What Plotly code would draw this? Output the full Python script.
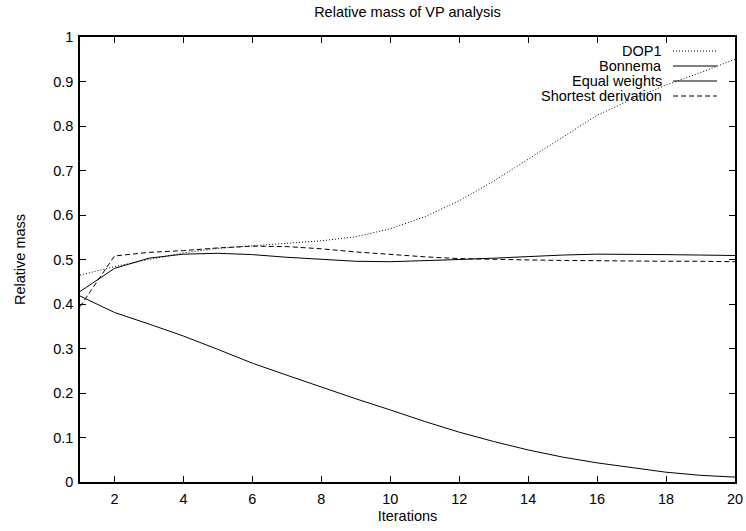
import plotly.graph_objects as go

iterations = list(range(1, 21))
dop1 = [0.465, 0.484, 0.500, 0.515, 0.525, 0.531, 0.536, 0.542, 0.551, 0.569,
        0.596, 0.632, 0.676, 0.726, 0.776, 0.824, 0.860, 0.892, 0.920, 0.950]
bonnema = [0.418, 0.381, 0.355, 0.328, 0.298, 0.267, 0.240, 0.213, 0.187, 0.162,
           0.136, 0.112, 0.091, 0.072, 0.056, 0.043, 0.032, 0.022, 0.015, 0.011]
equal_weights = [0.428, 0.480, 0.503, 0.512, 0.514, 0.511, 0.505, 0.500, 0.496, 0.495,
                 0.497, 0.500, 0.503, 0.507, 0.510, 0.512, 0.512, 0.511, 0.510, 0.509]
shortest = [0.394, 0.508, 0.516, 0.520, 0.526, 0.530, 0.529, 0.524, 0.517, 0.511,
            0.506, 0.502, 0.500, 0.499, 0.498, 0.497, 0.497, 0.496, 0.496, 0.495]

series_names = ["DOP1", "Bonnema", "Equal weights", "Shortest derivation"]
series_values = [dop1, bonnema, equal_weights, shortest]
dashes = ["1px,2px", "solid", "solid", "5px,3px"]

x_ticks = list(range(2, 21, 2))
y_ticks = [i / 10 for i in range(0, 11)]
y_tick_labels = ["0"] + [f"{v:.1f}" for v in y_ticks[1:-1]] + ["1"]

FONT = "Liberation Sans, Arial, sans-serif"
FS = 14.5
W, H = 746, 531
L, R, T, B = 80, 11, 37, 49
pw, ph = W - L - R, H - T - B

fig = go.Figure()
for name, vals, d in zip(series_names, series_values, dashes):
    fig.add_trace(go.Scatter(x=iterations, y=vals, mode="lines", name=name,
                             line=dict(color="black", width=1, dash=d),
                             showlegend=False))

# manual gnuplot-style legend (text right, sample on the right)
def px2paper(px, py):
    return (px - L) / pw, (H - B - py) / ph

rows_y = [51, 66, 81, 96]
for name, d, py in zip(series_names, dashes, rows_y):
    tx, ty = px2paper(664, py)
    fig.add_annotation(x=tx, y=ty, xref="paper", yref="paper", text=name,
                       showarrow=False, xanchor="right", yanchor="middle",
                       font=dict(family=FONT, size=FS, color="black"))
    x0, y0 = px2paper(673, py)
    x1, _ = px2paper(717, py)
    fig.add_shape(type="line", xref="paper", yref="paper", x0=x0, x1=x1, y0=y0, y1=y0,
                  line=dict(color="black", width=1, dash=d))

axis_common = dict(showline=True, linecolor="black", linewidth=1.5, mirror="ticks",
                   ticks="inside", ticklen=6, tickcolor="black", tickwidth=1,
                   showgrid=False, zeroline=False, automargin=False,
                   tickfont=dict(family=FONT, size=FS, color="black"))

fig.update_layout(
    width=W, height=H,
    margin=dict(l=L, r=R, t=T, b=B),
    plot_bgcolor="white", paper_bgcolor="white",
    font=dict(family=FONT, size=FS, color="black"),
    title=dict(text="Relative mass of VP analysis", x=(L + pw / 2) / W, xanchor="center",
               y=1 - 12 / H, yanchor="middle", font=dict(family=FONT, size=FS)),
    xaxis=dict(range=[1, 20], tickvals=x_ticks, ticktext=[str(v) for v in x_ticks],
               ticklabelstandoff=3,
               title=dict(text="Iterations", standoff=5, font=dict(family=FONT, size=FS)),
               **axis_common),
    yaxis=dict(range=[0, 1], tickvals=y_ticks, ticktext=y_tick_labels,
               ticklabelstandoff=2,
               title=dict(text="Relative mass", standoff=24, font=dict(family=FONT, size=FS)),
               **axis_common),
)

fig.write_html("out.html")
